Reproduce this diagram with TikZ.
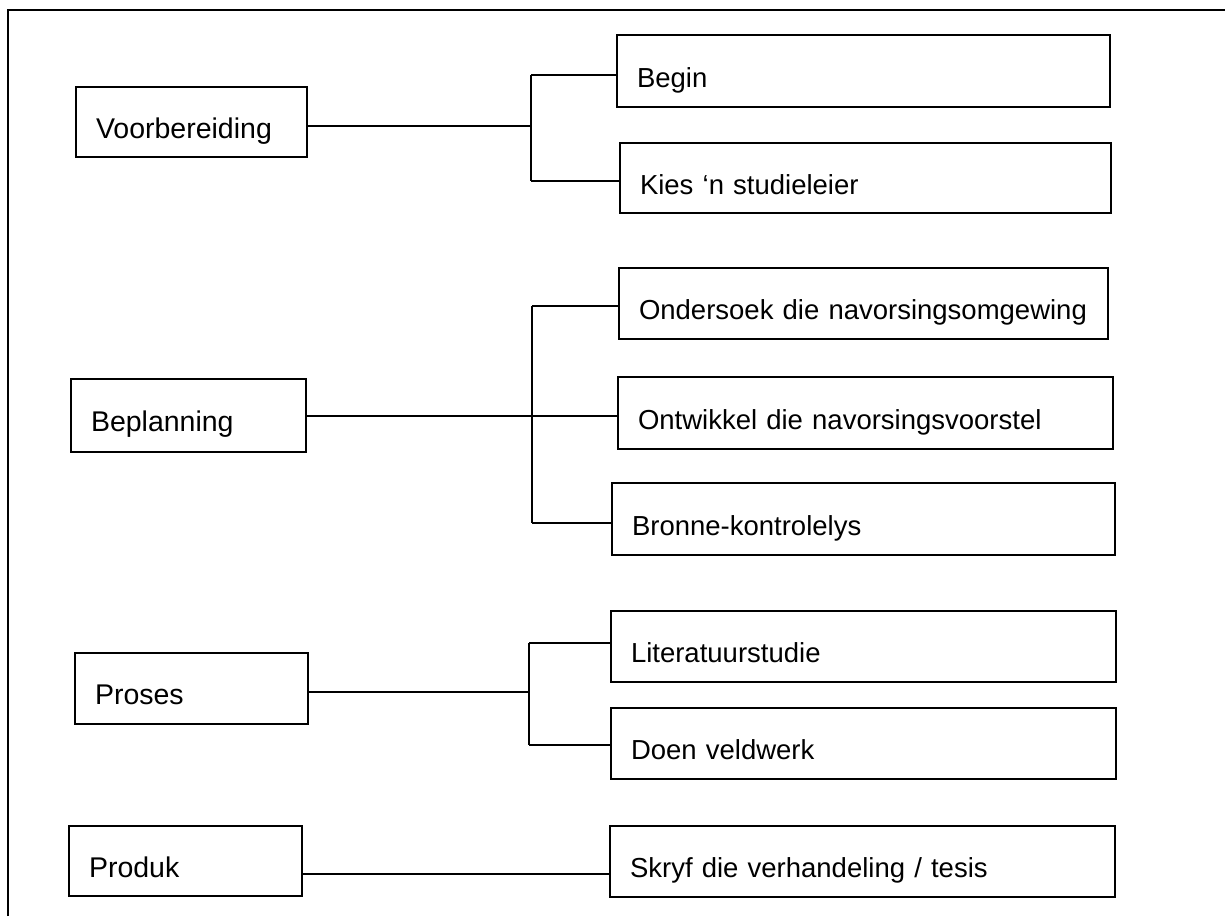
\documentclass[tikz,border=0pt]{standalone}
\usepackage{fontspec}
\setmainfont{Liberation Sans}
\begin{document}
\begin{tikzpicture}[x=1pt,y=-1pt,
  frame/.style={line width=1.8pt},
  link/.style={line width=1.7pt},
  stage/.style={draw, line width=1.8pt, rectangle, outer sep=0pt,
    inner xsep=20pt, inner ysep=0pt, text height=32pt, text depth=0pt,
    align=left, font=\fontsize{28.5}{34}\selectfont},
  task/.style={stage, font=\fontsize{27.5}{33}\selectfont}]
\useasboundingbox (0,0) rectangle (1225,916);

% outer frame (open at right and bottom)
\draw[frame] (8,916) -- (8,10) -- (1225,10);

% left column: phases
\node[stage, text width=191pt, minimum height=70pt] (vb)   at (191.5,122)   {Voorbereiding};
\node[stage, text width=195pt, minimum height=73pt] (bp)   at (188.5,415.5) {Beplanning};
\node[stage, text width=193pt, minimum height=71pt] (pr)   at (191.5,688.5) {Proses};
\node[stage, text width=193pt, minimum height=70pt] (prod) at (185.5,861)   {Produk};

% right column: tasks
\node[task, text width=453pt, minimum height=72pt] (begin) at (863.5,71)    {Begin};
\node[task, text width=451pt, minimum height=70pt] (kies)  at (865.5,178)   {Kies ‘n studieleier};
\node[task, text width=449pt, minimum height=71pt] (ond)   at (863.5,303.5) {Ondersoek die navorsingsomgewing};
\node[task, text width=455pt, minimum height=72pt] (ont)   at (865.5,413)   {Ontwikkel die navorsingsvoorstel};
\node[task, text width=463pt, minimum height=72pt] (bron)  at (863.5,519)   {Bronne-kontrolelys};
\node[task, text width=465pt, minimum height=71pt] (lit)   at (863.5,646.5) {Literatuurstudie};
\node[task, text width=465pt, minimum height=71pt] (doen)  at (863.5,743.5) {Doen veldwerk};
\node[task, text width=465pt, minimum height=71pt] (skryf) at (862.5,861.5) {Skryf die verhandeling / tesis};

% junction points
\coordinate (j1)  at (531,126);
\coordinate (j1t) at (531,75);
\coordinate (j1b) at (531,181);
\coordinate (j2)  at (532,416);
\coordinate (j2t) at (532,306);
\coordinate (j2b) at (532,523);
\coordinate (j3)  at (529,692);
\coordinate (j3t) at (529,643);
\coordinate (j3b) at (529,745);
\coordinate (j4)  at (450,874);

% Voorbereiding
\draw[link] (vb.east |- j1) -- (j1);
\draw[link] (j1t) -- (j1b);
\draw[link] (j1t) -- (begin.west |- j1t);
\draw[link] (j1b) -- (kies.west |- j1b);

% Beplanning
\draw[link] (bp.east |- j2) -- (ont.west |- j2);
\draw[link] (j2t) -- (j2b);
\draw[link] (j2t) -- (ond.west |- j2t);
\draw[link] (j2b) -- (bron.west |- j2b);

% Proses
\draw[link] (pr.east |- j3) -- (j3);
\draw[link] (j3t) -- (j3b);
\draw[link] (j3t) -- (lit.west |- j3t);
\draw[link] (j3b) -- (doen.west |- j3b);

% Produk
\draw[link] (prod.east |- j4) -- (skryf.west |- j4);
\end{tikzpicture}
\end{document}
